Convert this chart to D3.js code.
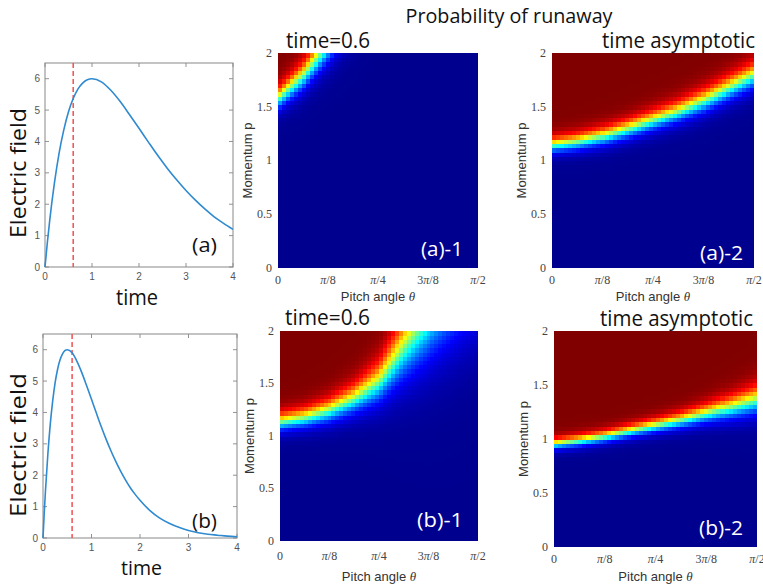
<!DOCTYPE html>
<html>
<head>
<meta charset="utf-8">
<script src="https://cdn.jsdelivr.net/npm/d3@7"></script>
<style>
  body { margin: 0; background: #fff; }
  svg { display: block; }
</style>
</head>
<body>
<script>
// electric field traces
const timeA = [0, 0.05, 0.1, 0.2, 0.3, 0.4, 0.5, 0.6, 0.7, 0.8, 0.9, 1.0, 1.2, 1.4, 1.6, 1.8, 2.0,
  2.2, 2.4, 2.6, 2.8, 3.0, 3.2, 3.4, 3.6, 3.8, 4.0];
const fieldA = [0, 0.78, 1.48, 2.67, 3.63, 4.37, 4.95, 5.37, 5.67, 5.86, 5.97, 6.0, 5.9, 5.63, 5.27, 4.85, 4.42,
  3.98, 3.55, 3.15, 2.78, 2.44, 2.13, 1.85, 1.6, 1.39, 1.2];
const timeB = [0, 0.025, 0.05, 0.1, 0.15, 0.2, 0.25, 0.3, 0.35, 0.4, 0.45, 0.5, 0.6, 0.7, 0.8, 0.9, 1.0,
  1.1, 1.2, 1.3, 1.4, 1.5, 1.6, 1.7, 1.8, 1.9, 2.0, 2.2, 2.4, 2.6, 2.8, 3.0, 3.2, 3.4, 3.6, 3.8, 4.0];
const fieldB = [0, 0.78, 1.48, 2.67, 3.63, 4.37, 4.95, 5.37, 5.67, 5.86, 5.97, 6.0, 5.9, 5.63, 5.27, 4.85, 4.42,
  3.98, 3.55, 3.15, 2.78, 2.44, 2.13, 1.85, 1.6, 1.39, 1.2, 0.88, 0.64, 0.47, 0.34, 0.24, 0.17, 0.12, 0.09, 0.06, 0.04];
const markerTime = 0.6;
const timeTicks = [0, 1, 2, 3, 4];
const fieldTicks = [0, 1, 2, 3, 4, 5, 6];

// runaway probability maps: momentum where P = 0.5 and the softness of the edge,
// read at every pi/16 of pitch angle
const pitchNodes = [0, 0.196, 0.393, 0.589, 0.785, 0.982, 1.178, 1.374, 1.571];
const midA1 = [1.58, 1.79, 2.08, 2.38, 2.68, 2.98, 3.28, 3.58, 3.88];
const widA1 = [0.058, 0.075, 0.09, 0.1, 0.1, 0.1, 0.1, 0.1, 0.1];
const midA2 = [1.15, 1.18, 1.23, 1.3, 1.38, 1.46, 1.56, 1.68, 1.8];
const widA2 = [0.042, 0.045, 0.048, 0.051, 0.054, 0.057, 0.062, 0.065, 0.069];
const midB1 = [1.14, 1.18, 1.25, 1.36, 1.52, 1.85, 2.14, 2.4, 2.62];
const widB1 = [0.05, 0.055, 0.065, 0.08, 0.11, 0.17, 0.22, 0.25, 0.26];
const midB2 = [0.96, 0.99, 1.03, 1.08, 1.13, 1.18, 1.24, 1.3, 1.37];
const widB2 = [0.029, 0.031, 0.032, 0.034, 0.037, 0.042, 0.05, 0.062, 0.075];
const momentumTicks = [0, 0.5, 1, 1.5, 2];
const pitchTicks = [0, Math.PI / 8, Math.PI / 4, 3 * Math.PI / 8, Math.PI / 2];
const pitchTickLabels = ["0", "π/8", "π/4", "3π/8", "π/2"];

const slideFont = "'Open Sans', 'Noto Sans', sans-serif";
const helv = "'Liberation Sans', Arial, sans-serif";
const serif = "'Liberation Serif', 'DejaVu Serif', serif";

const jet = d3.scaleLinear()
  .domain([0, 0.125, 0.375, 0.625, 0.875, 1])
  .range(["#00008f", "#0000ff", "#00ffff", "#ffff00", "#ff0000", "#800000"])
  .clamp(true);

const svg = d3.select("body").append("svg")
  .attr("width", 763)
  .attr("height", 584);

function slideText(x, y, str, size, len, anchor, color) {
  return svg.append("text")
    .attr("x", x).attr("y", y)
    .attr("font-family", slideFont)
    .attr("font-size", size)
    .attr("text-anchor", anchor || "start")
    .attr("fill", color || "#111")
    .attr("textLength", len)
    .attr("lengthAdjust", "spacingAndGlyphs")
    .text(str);
}

function linePanel(box, times, fields) {
  const g = svg.append("g");
  const x = d3.scaleLinear().domain([0, 4]).range([box.x0, box.x1]);
  const y = d3.scaleLinear().domain([0, 6.5]).range([box.y1, box.y0]);

  // inward ticks on all four sides
  const tk = 4;
  g.selectAll(".tx").data(timeTicks).join("path")
    .attr("d", d => `M${x(d)},${box.y1}v${-tk}M${x(d)},${box.y0}v${tk}`)
    .attr("stroke", "#777").attr("stroke-width", 0.8);
  g.selectAll(".ty").data(fieldTicks).join("path")
    .attr("d", d => `M${box.x0},${y(d)}h${tk}M${box.x1},${y(d)}h${-tk}`)
    .attr("stroke", "#777").attr("stroke-width", 0.8);

  g.append("rect")
    .attr("x", box.x0).attr("y", box.y0)
    .attr("width", box.x1 - box.x0).attr("height", box.y1 - box.y0)
    .attr("fill", "none").attr("stroke", "#888").attr("stroke-width", 1);

  g.selectAll(".lx").data(timeTicks).join("text")
    .attr("x", d => x(d)).attr("y", box.y1 + 13)
    .attr("text-anchor", "middle")
    .attr("font-family", helv).attr("font-size", 10).attr("fill", "#555")
    .text(d => d);
  g.selectAll(".ly").data(fieldTicks).join("text")
    .attr("x", box.x0 - 5).attr("y", d => y(d)).attr("dy", "0.35em")
    .attr("text-anchor", "end")
    .attr("font-family", helv).attr("font-size", 10).attr("fill", "#555")
    .text(d => d);

  g.append("line")
    .attr("x1", x(markerTime)).attr("x2", x(markerTime))
    .attr("y1", box.y0).attr("y2", box.y1)
    .attr("stroke", "#f2504f").attr("stroke-width", 1.5)
    .attr("stroke-dasharray", "5,3");

  const line = d3.line().x((d, i) => x(times[i])).y(d => y(d)).curve(d3.curveMonotoneX);
  g.append("path")
    .attr("d", line(fields))
    .attr("fill", "none").attr("stroke", "#2f8ad0").attr("stroke-width", 1.6);
}

function heatPanel(box, mids, wids) {
  const g = svg.append("g");
  const x = d3.scaleLinear().domain([0, Math.PI / 2]).range([box.x0, box.x1]);
  const y = d3.scaleLinear().domain([0, 2]).range([box.y1, box.y0]);
  const mid = d3.scaleLinear().domain(pitchNodes).range(mids);
  const wid = d3.scaleLinear().domain(pitchNodes).range(wids);

  const nx = 50, ny = 50;
  const dth = (Math.PI / 2) / nx, dp = 2 / ny;
  const cells = [];
  for (let i = 0; i < nx; i++) {
    for (let j = 0; j < ny; j++) {
      const th = (i + 0.5) * dth, p = (j + 0.5) * dp;
      const v = 1 / (1 + Math.exp(-(p - mid(th)) / wid(th)));
      cells.push({ t0: i * dth, t1: (i + 1) * dth, p0: j * dp, p1: (j + 1) * dp, v });
    }
  }
  g.selectAll("rect").data(cells).join("rect")
    .attr("x", d => x(d.t0))
    .attr("y", d => y(d.p1))
    .attr("width", d => x(d.t1) - x(d.t0) + 0.6)
    .attr("height", d => y(d.p0) - y(d.p1) + 0.6)
    .attr("fill", d => jet(d.v))
    .attr("shape-rendering", "crispEdges");
  // clean the overlap at the right/bottom edge
  g.append("rect")
    .attr("x", box.x1).attr("y", box.y0 - 1).attr("width", 3).attr("height", box.y1 - box.y0 + 4)
    .attr("fill", "#fff");
  g.append("rect")
    .attr("x", box.x0 - 1).attr("y", box.y1).attr("width", box.x1 - box.x0 + 4).attr("height", 3)
    .attr("fill", "#fff");

  g.selectAll(".ly").data(momentumTicks).join("text")
    .attr("x", box.x0 - 6).attr("y", d => y(d)).attr("dy", "0.33em")
    .attr("text-anchor", "end")
    .attr("font-family", serif).attr("font-size", 12).attr("fill", "#444")
    .text(d => d);

  const xl = g.selectAll(".lx").data(pitchTicks).join("text")
    .attr("x", d => x(d)).attr("y", box.tickY)
    .attr("text-anchor", "middle")
    .attr("font-family", serif).attr("font-size", 12).attr("fill", "#444");
  xl.each(function (d, i) {
    const parts = pitchTickLabels[i].split("π");
    const t = d3.select(this);
    if (parts.length === 1) { t.text(parts[0]); return; }
    t.append("tspan").text(parts[0]);
    t.append("tspan").attr("font-style", "italic").text("π");
    t.append("tspan").text(parts[1]);
  });

  const cx = (box.x0 + box.x1) / 2, cy = (box.y0 + box.y1) / 2;
  const xt = g.append("text")
    .attr("x", cx).attr("y", box.labelY)
    .attr("text-anchor", "middle")
    .attr("font-family", helv).attr("font-size", 13).attr("fill", "#333");
  xt.append("tspan").text("Pitch angle ");
  xt.append("tspan").attr("font-family", serif).attr("font-style", "italic").text("θ");

  g.append("text")
    .attr("transform", `translate(${box.x0 - 26},${cy}) rotate(-90)`)
    .attr("text-anchor", "middle")
    .attr("font-family", helv).attr("font-size", 13).attr("fill", "#333")
    .text("Momentum p");
}

// left column: field traces
linePanel({ x0: 45, x1: 233, y0: 63, y1: 267 }, timeA, fieldA);
linePanel({ x0: 43, x1: 237, y0: 334, y1: 538 }, timeB, fieldB);

// probability maps
heatPanel({ x0: 278, x1: 478, y0: 53, y1: 268, tickY: 284, labelY: 301 }, midA1, widA1);
heatPanel({ x0: 552, x1: 754, y0: 53, y1: 268, tickY: 284, labelY: 301 }, midA2, widA2);
heatPanel({ x0: 280, x1: 478, y0: 331, y1: 541, tickY: 560, labelY: 581 }, midB1, widB1);
heatPanel({ x0: 554, x1: 757, y0: 331, y1: 547, tickY: 563, labelY: 581 }, midB2, widB2);

// slide annotations
slideText(509, 23, "Probability of runaway", 20, 207, "middle");
slideText(286, 48, "time=0.6", 21, 84);
slideText(602, 48, "time asymptotic", 21, 153);
slideText(285, 325, "time=0.6", 21, 85);
slideText(600, 326, "time asymptotic", 21, 153);

svg.append("text")
  .attr("transform", "translate(26,173) rotate(-90)")
  .attr("text-anchor", "middle")
  .attr("font-family", slideFont).attr("font-size", 22).attr("fill", "#111")
  .attr("textLength", 130).attr("lengthAdjust", "spacingAndGlyphs")
  .text("Electric field");
svg.append("text")
  .attr("transform", "translate(26,445) rotate(-90)")
  .attr("text-anchor", "middle")
  .attr("font-family", slideFont).attr("font-size", 22).attr("fill", "#111")
  .attr("textLength", 144).attr("lengthAdjust", "spacingAndGlyphs")
  .text("Electric field");

slideText(192, 252, "(a)", 20, 25);
slideText(192, 528, "(b)", 20, 25);
slideText(116, 305, "time", 21, 42);
slideText(121, 575, "time", 20, 41);

slideText(421, 256, "(a)-1", 20, 42, "start", "#fff");
slideText(700, 260, "(a)-2", 20, 43, "start", "#fff");
slideText(417, 527, "(b)-1", 20, 46, "start", "#fff");
slideText(699, 535, "(b)-2", 20, 44, "start", "#fff");
</script>
</body>
</html>
